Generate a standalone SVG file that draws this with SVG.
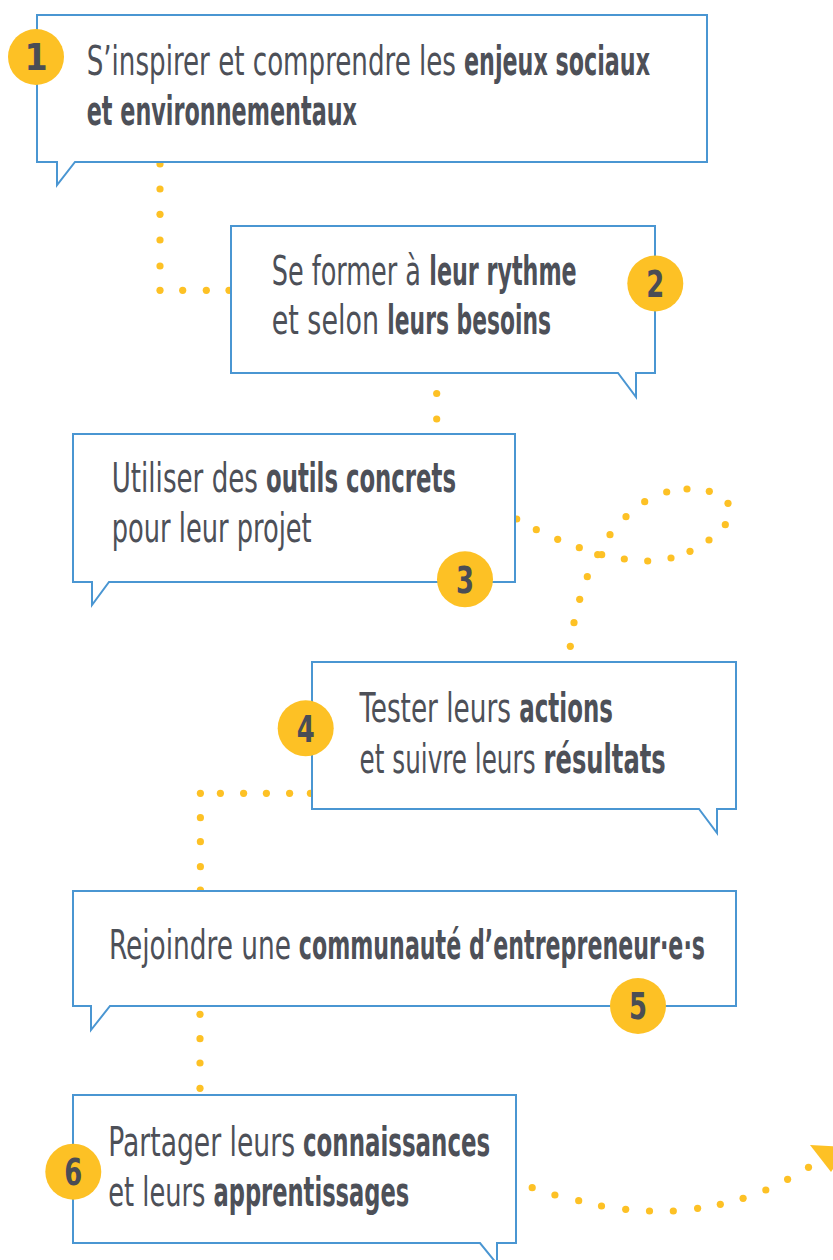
<svg xmlns="http://www.w3.org/2000/svg" width="833" height="1260" viewBox="0 0 833 1260">
<style>
.box{fill:#ffffff;stroke:#4a96d2;stroke-width:2;stroke-linejoin:miter}
.dot{fill:#fdc125}
.badge{fill:#fdc125}
.num{font-family:"Liberation Sans Narrow","DejaVu Sans Condensed","Liberation Sans",sans-serif;font-weight:bold;font-size:37px;fill:#4a4d55;text-anchor:middle}
.t{font-family:"Liberation Sans Narrow","DejaVu Sans Condensed","Liberation Sans",sans-serif;font-size:40px;fill:#4d5058}
.b{font-weight:bold}
</style>
<rect width="833" height="1260" fill="#ffffff"/>
<g id="connectors">
  <g id="c1-2" class="dot">
    <circle cx="160" cy="164" r="3.6"/><circle cx="160" cy="189" r="3.6"/><circle cx="160" cy="214.3" r="3.6"/><circle cx="160" cy="240" r="3.6"/><circle cx="160" cy="266" r="3.6"/><circle cx="160" cy="290.3" r="3.6"/><circle cx="182.7" cy="290.3" r="3.6"/><circle cx="206.3" cy="290.3" r="3.6"/><circle cx="229" cy="290.3" r="3.6"/>
  </g>
  <g id="c2-3" class="dot">
    <circle cx="436.7" cy="393.5" r="3.6"/><circle cx="436.7" cy="419" r="3.6"/>
  </g>
  <g id="c3-4" class="dot">
    <circle cx="516.7" cy="519" r="3.6"/><circle cx="536.3" cy="529.7" r="3.6"/><circle cx="557.7" cy="539.3" r="3.6"/><circle cx="579.3" cy="547.7" r="3.6"/><circle cx="597.7" cy="554.7" r="3.6"/><circle cx="601.7" cy="554.7" r="3.6"/><circle cx="610" cy="534.7" r="3.6"/><circle cx="626" cy="516.7" r="3.6"/><circle cx="644.7" cy="501.7" r="3.6"/><circle cx="666.7" cy="492" r="3.6"/><circle cx="687" cy="489" r="3.6"/><circle cx="709.3" cy="491.3" r="3.6"/><circle cx="728" cy="503.3" r="3.6"/><circle cx="725.3" cy="524.7" r="3.6"/><circle cx="709" cy="540" r="3.6"/><circle cx="690" cy="551.3" r="3.6"/><circle cx="671" cy="558" r="3.6"/><circle cx="647.7" cy="561" r="3.6"/><circle cx="624.3" cy="559" r="3.6"/><circle cx="587.3" cy="576.7" r="3.6"/><circle cx="579.7" cy="599.3" r="3.6"/><circle cx="574" cy="622.7" r="3.6"/><circle cx="570.3" cy="646.3" r="3.6"/>
  </g>
  <g id="c4-5" class="dot">
    <circle cx="310.4" cy="793.3" r="3.6"/><circle cx="289.6" cy="793.3" r="3.6"/><circle cx="266.4" cy="793.3" r="3.6"/><circle cx="243.6" cy="793.3" r="3.6"/><circle cx="220.4" cy="793.3" r="3.6"/><circle cx="200.4" cy="793.3" r="3.6"/><circle cx="200.4" cy="817.7" r="3.6"/><circle cx="200.4" cy="841.7" r="3.6"/><circle cx="200.4" cy="866.7" r="3.6"/><circle cx="200.4" cy="890" r="3.6"/>
  </g>
  <g id="c5-6" class="dot">
    <circle cx="200" cy="1014.3" r="3.6"/><circle cx="200" cy="1038.7" r="3.6"/><circle cx="200" cy="1063" r="3.6"/><circle cx="200" cy="1088.3" r="3.6"/>
  </g>
  <g id="c6-out" class="dot">
    <circle cx="532.2" cy="1187.7" r="3.6"/><circle cx="554.9" cy="1195" r="3.6"/><circle cx="578.7" cy="1200.7" r="3.6"/><circle cx="601.5" cy="1206" r="3.6"/><circle cx="625.7" cy="1209.3" r="3.6"/><circle cx="649.5" cy="1211" r="3.6"/><circle cx="673.3" cy="1211" r="3.6"/><circle cx="697.6" cy="1208.3" r="3.6"/><circle cx="720.3" cy="1204.3" r="3.6"/><circle cx="743.1" cy="1198.3" r="3.6"/><circle cx="765.8" cy="1190" r="3.6"/><circle cx="787.6" cy="1179.3" r="3.6"/><circle cx="808.5" cy="1167.3" r="3.6"/>
    <polygon points="810,1145 848,1147 831,1172"/>
  </g>
</g>
<g id="node1">
  <path class="box" d="M37,15 H707 V162 H75 L57,185 V162 H37 Z"/>
  <text class="t" x="86.7" y="75" textLength="369.3" lengthAdjust="spacingAndGlyphs">S’inspirer et comprendre les</text>
  <text class="t b" x="464" y="75" textLength="186" lengthAdjust="spacingAndGlyphs">enjeux sociaux</text>
  <text class="t b" x="86.7" y="125" textLength="270.3" lengthAdjust="spacingAndGlyphs">et environnementaux</text>
  <circle class="badge" cx="36" cy="57" r="28"/>
  <text class="num" x="36" y="70">1</text>
</g>
<g id="node2">
  <path class="box" d="M231,226 H655 V373 H636 V397 L618,373 H231 Z"/>
  <text class="t" x="271.7" y="285" textLength="149.3" lengthAdjust="spacingAndGlyphs">Se former à</text>
  <text class="t b" x="429.3" y="285" textLength="147.4" lengthAdjust="spacingAndGlyphs">leur rythme</text>
  <text class="t" x="271.7" y="334" textLength="107.3" lengthAdjust="spacingAndGlyphs">et selon</text>
  <text class="t b" x="387.3" y="334" textLength="163.7" lengthAdjust="spacingAndGlyphs">leurs besoins</text>
  <circle class="badge" cx="655.3" cy="283.5" r="28"/>
  <text class="num" x="655.3" y="296.8" textLength="18" lengthAdjust="spacingAndGlyphs">2</text>
</g>
<g id="node3">
  <path class="box" d="M73,434 H515 V582 H109 L92,605 V582 H73 Z"/>
  <text class="t" x="111.7" y="491.7" textLength="146.3" lengthAdjust="spacingAndGlyphs">Utiliser des</text>
  <text class="t b" x="266" y="491.7" textLength="190" lengthAdjust="spacingAndGlyphs">outils concrets</text>
  <text class="t" x="111.7" y="541.7" textLength="200" lengthAdjust="spacingAndGlyphs">pour leur projet</text>
  <circle class="badge" cx="465" cy="579.3" r="28"/>
  <text class="num" x="465" y="592.6" textLength="18" lengthAdjust="spacingAndGlyphs">3</text>
</g>
<g id="node4">
  <path class="box" d="M312,662 H736 V809 H717 V833 L699,809 H312 Z"/>
  <text class="t" x="359.6" y="721.7" textLength="151.4" lengthAdjust="spacingAndGlyphs">Tester leurs</text>
  <text class="t b" x="519.3" y="721.7" textLength="93.6" lengthAdjust="spacingAndGlyphs">actions</text>
  <text class="t" x="359.6" y="772.7" textLength="175.9" lengthAdjust="spacingAndGlyphs">et suivre leurs</text>
  <text class="t b" x="543.6" y="772.7" textLength="122.1" lengthAdjust="spacingAndGlyphs">résultats</text>
  <circle class="badge" cx="305.7" cy="728.3" r="28"/>
  <text class="num" x="305.7" y="741.6" textLength="18" lengthAdjust="spacingAndGlyphs">4</text>
</g>
<g id="node5">
  <path class="box" d="M73,891 H736 V1006 H110 L91,1030 V1006 H73 Z"/>
  <text class="t" x="109" y="959" textLength="182" lengthAdjust="spacingAndGlyphs">Rejoindre une</text>
  <text class="t b" x="298.8" y="959" textLength="406.2" lengthAdjust="spacingAndGlyphs">communauté d’entrepreneur·e·s</text>
  <circle class="badge" cx="638" cy="1006" r="28"/>
  <text class="num" x="638" y="1019.3" textLength="18" lengthAdjust="spacingAndGlyphs">5</text>
</g>
<g id="node6">
  <path class="box" d="M73,1095 H516 V1243 H497 V1264 L480,1243 H73 Z"/>
  <text class="t" x="108.3" y="1156" textLength="186.7" lengthAdjust="spacingAndGlyphs">Partager leurs</text>
  <text class="t b" x="303" y="1156" textLength="187.2" lengthAdjust="spacingAndGlyphs">connaissances</text>
  <text class="t" x="108.3" y="1206" textLength="97.2" lengthAdjust="spacingAndGlyphs">et leurs</text>
  <text class="t b" x="213.5" y="1206" textLength="195.7" lengthAdjust="spacingAndGlyphs">apprentissages</text>
  <circle class="badge" cx="73.3" cy="1171.7" r="28"/>
  <text class="num" x="73.3" y="1185" textLength="18" lengthAdjust="spacingAndGlyphs">6</text>
</g>
</svg>
